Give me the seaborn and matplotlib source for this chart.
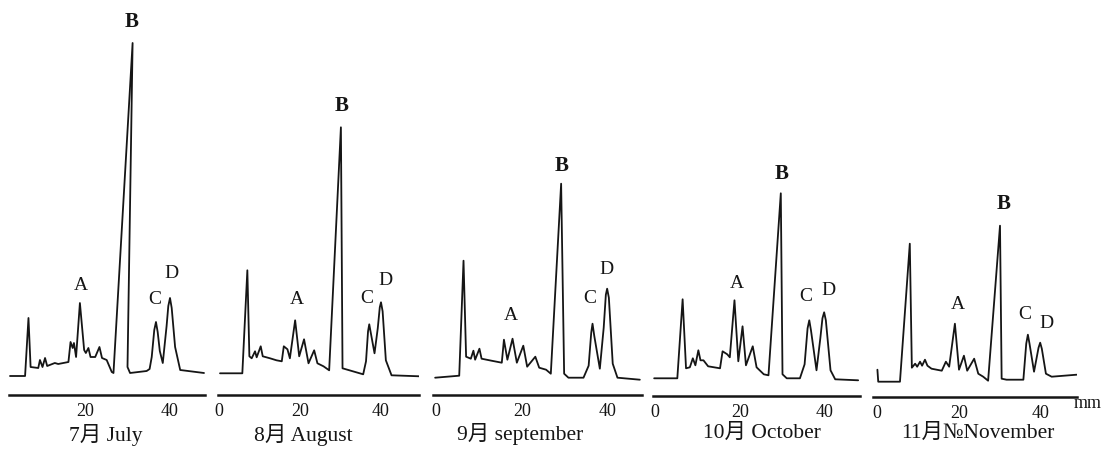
import numpy as np
import pandas as pd
import matplotlib
matplotlib.use("Agg")
import matplotlib.pyplot as plt
import seaborn as sns


# =========================================
# TRACES (retention in mm, pen height above baseline)
# =========================================

jul_mm = [2.35, 5.9, 6.7, 7.2, 9.0, 9.4, 10.0, 10.6, 11.1, 12.9, 13.7, 16.1, 16.6, 17.1,
          17.4, 17.9, 18.8, 19.8, 20.2, 20.8, 21.3, 22.4, 23.4, 24.0, 25.1, 26.3, 26.7,
          31.2, 30.0, 30.6, 34.5, 35.2, 35.7, 36.3, 36.7, 37.1, 37.6, 38.3, 39.2, 39.6,
          40.0, 40.4, 41.2, 42.4, 48.0]
jul_h = [0, 0, 58, 9, 8, 16, 9, 18, 10, 13, 12, 14, 34, 28,
         33, 19, 73, 26, 23, 28, 19, 19, 29, 18, 16, 4, 3,
         333, 9, 3, 5, 7, 19, 46, 54, 44, 25, 13, 50, 70,
         78, 68, 29, 6, 3]

aug_mm = [0.25, 5.76, 7.0, 7.5, 8.07, 8.9, 9.3, 10.3, 10.8, 12.6, 14.2, 15.5, 16.0, 16.9,
          17.5, 18.8, 19.8, 21.0, 22.1, 23.5, 24.3, 25.8, 27.2, 30.1, 30.5, 35.6, 36.3,
          36.8, 37.1, 37.5, 38.4, 39.2, 39.7, 40.0, 40.4, 41.2, 42.6, 49.5]
aug_h = [0, 0, 103, 17, 15, 22, 16, 27, 17, 15, 13, 12, 27, 24,
         15, 53, 17, 34, 10, 23, 10, 7, 3, 246, 5, -1, 12,
         42, 49, 40, 20, 45, 66, 71, 62, 13, -2, -3]

sep_mm = [-0.2, 5.4, 6.4, 7.0, 8.1, 8.7, 9.1, 10.1, 10.6, 12.9, 15.3, 15.8, 16.6, 17.8,
          18.8, 20.3, 21.2, 23.1, 24.0, 25.6, 26.7, 29.1, 29.8, 30.8, 34.3, 35.5, 36.1,
          36.4, 36.8, 38.1, 39.0, 39.5, 39.8, 40.2, 41.1, 42.2, 47.4]
sep_h = [0, 2, 117, 21, 19, 27, 18, 29, 19, 17, 15, 38, 18, 39,
         15, 32, 11, 21, 10, 8, 4, 194, 4, 0, 0, 12, 45,
         54, 42, 9, 50, 83, 89, 80, 14, 0, -2]

oct_mm = [-0.2, 5.25, 6.5, 7.3, 8.2, 8.9, 9.5, 10.2, 10.7, 11.4, 12.5, 15.3, 15.9, 17.0,
          17.6, 18.7, 19.6, 20.6, 21.4, 23.0, 23.9, 25.6, 26.7, 29.6, 30.0, 31.0, 34.1,
          35.2, 35.9, 36.3, 36.7, 38.0, 38.9, 39.4, 39.8, 40.2, 41.3, 42.4, 47.8]
oct_h = [0, 0, 79, 10, 11, 20, 13, 28, 18, 18, 12, 10, 27, 24,
         21, 78, 17, 52, 13, 32, 11, 4, 3, 185, 4, 0, 0,
         14, 50, 58, 48, 8, 40, 60, 66, 58, 8, -1, -2]

nov_mm = [0.1, 0.3, 5.6, 8.0, 8.5, 9.3, 9.8, 10.5, 11.0, 11.7, 12.3, 13.3, 15.8, 16.8,
          17.6, 19.0, 20.0, 21.2, 22.0, 23.7, 24.7, 25.9, 27.1, 30.0, 30.4, 31.6, 35.7,
          36.4, 36.8, 37.2, 38.3, 39.4, 39.8, 40.2, 41.2, 42.6, 48.7]
nov_h = [12, 0, 0, 138, 14, 18, 15, 20, 16, 22, 16, 13, 11, 20,
         15, 58, 12, 26, 11, 23, 8, 5, 1, 156, 3, 2, 2,
         38, 47, 38, 10, 34, 39, 33, 8, 5, 7]

months = ["7月 July", "8月 August", "9月 september", "10月 October", "11月№November"]

# approximate retention of the labelled peaks in each run
peak_mm = [
    {"A": 18.8, "B": 31.2, "C": 36.7, "D": 40.0},
    {"A": 18.8, "B": 30.1, "C": 37.1, "D": 40.0},
    {"A": 17.8, "B": 29.1, "C": 36.4, "D": 39.8},
    {"A": 18.7, "B": 29.6, "C": 36.3, "D": 39.8},
    {"A": 19.0, "B": 30.0, "C": 36.8, "D": 39.8},
]

traces = [(jul_mm, jul_h), (aug_mm, aug_h), (sep_mm, sep_h), (oct_mm, oct_h), (nov_mm, nov_h)]


# =========================================
# LAYOUT (pixels of the 1105x449 page)
# =========================================

W, H = 1105, 449

# x of 0 mm, px per mm, baseline y, axis y, axis left, axis right, month label x, y
geom = [
    (0, 4.25, 376.0, 395, 9, 205, 106, 435),
    (219, 4.05, 373.3, 395, 218, 419, 303, 435),
    (436, 4.30, 377.7, 395, 433, 642, 520, 434),
    (655, 4.25, 378.3, 396, 653, 860, 762, 433),
    (877, 4.10, 381.7, 397, 873, 1077, 978, 433),
]

# label offsets from each peak top, px (dx, dy up)
offsets = [
    {"A": (1, 17), "B": (-1, 21), "C": (-1, 22), "D": (1, 25)},
    {"A": (2, 21), "B": (1, 21), "C": (-3, 26), "D": (4, 22)},
    {"A": (-2, 23), "B": (1, 18), "C": (-3, 25), "D": (-1, 19)},
    {"A": (2, 17), "B": (1, 19), "C": (-4, 24), "D": (4, 22)},
    {"A": (3, 19), "B": (4, 22), "C": (-3, 20), "D": (6, 19)},
]

sns.set_style("white")
plt.rcParams["font.family"] = ["Liberation Serif", "Noto Sans CJK JP", "DejaVu Sans"]

ink = "#151515"

fig = plt.figure(figsize=(W / 100, H / 100), dpi=100)

for i, ((xs, hs), g) in enumerate(zip(traces, geom)):
    x0, ppm, base, ay, left, right, mx, my = g
    top = 5

    ax = fig.add_axes([left / W, 1 - ay / H, (right - left) / W, (ay - top) / H])

    df = pd.DataFrame({"mm": xs, "h": hs})
    sns.lineplot(data=df, x="mm", y="h", sort=False, estimator=None,
                 color=ink, linewidth=1.3, ax=ax)

    # peak letters
    for letter, pos in peak_mm[i].items():
        sel = df[(df["mm"] - pos).abs() <= 0.8]
        j = sel["h"].idxmax()
        dx, dy = offsets[i][letter]
        ax.annotate(letter, xy=(df.loc[j, "mm"], df.loc[j, "h"]),
                    xytext=(dx, dy), textcoords="offset pixels",
                    ha="center", va="center", fontsize=15 if letter == "B" else 14,
                    fontweight="bold" if letter == "B" else "normal", color=ink)

    # axis
    sns.despine(ax=ax, left=True)
    ax.spines["bottom"].set_linewidth(1.8)
    ax.spines["bottom"].set_color(ink)
    ax.set_yticks([])
    ax.set_xticks([0, 20, 40])
    ax.set_xticks([10, 30], minor=True)
    ax.tick_params(axis="x", which="both", direction="out", width=1.5,
                   color=ink, labelsize=13, labelcolor=ink, pad=2)
    ax.tick_params(axis="x", which="major", length=4)
    ax.tick_params(axis="x", which="minor", length=3)
    ax.set_xlabel("")
    ax.set_ylabel("")

    # limits last, so the ticks cannot widen them
    ax.set_xlim((left - x0) / ppm, (right - x0) / ppm)
    ax.set_ylim(base - ay, base - top)

    ax.text((mx - x0) / ppm, base - my, months[i], ha="center", va="center",
            fontsize=15.5, color=ink, clip_on=False)

    if i == 4:
        ax.text((1088 - x0) / ppm, base - 403, "mm", ha="center", va="center",
                fontsize=13, color=ink, clip_on=False)

fig.savefig("out.png", dpi=100)
